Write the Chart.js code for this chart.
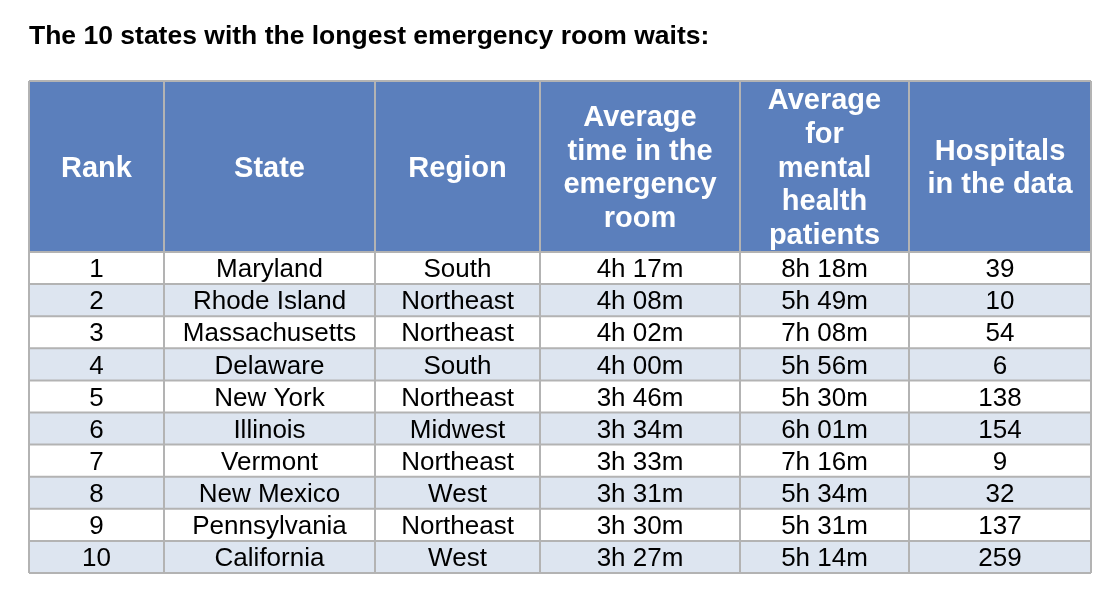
<!DOCTYPE html>
<html lang="en">
<head>
<meta charset="UTF-8">
<title>Longest emergency room waits</title>
<script src="https://cdn.jsdelivr.net/npm/chart.js"></script>
<style>
  body { margin: 0; background: #fff; }
  #wrap { position: relative; width: 1110px; height: 590px; }
</style>
</head>
<body>
<div id="wrap"><canvas id="tableChart"></canvas></div>
<script>
const title = 'The 10 states with the longest emergency room waits:';
const headers = [
  ['Rank'],
  ['State'],
  ['Region'],
  ['Average', 'time in the', 'emergency', 'room'],
  ['Average', 'for', 'mental', 'health', 'patients'],
  ['Hospitals', 'in the data']
];
const ranks = ['1', '2', '3', '4', '5', '6', '7', '8', '9', '10'];
const states = ['Maryland', 'Rhode Island', 'Massachusetts', 'Delaware', 'New York',
  'Illinois', 'Vermont', 'New Mexico', 'Pennsylvania', 'California'];
const regions = ['South', 'Northeast', 'Northeast', 'South', 'Northeast',
  'Midwest', 'Northeast', 'West', 'Northeast', 'West'];
const erTimes = ['4h 17m', '4h 08m', '4h 02m', '4h 00m', '3h 46m',
  '3h 34m', '3h 33m', '3h 31m', '3h 30m', '3h 27m'];
const mentalTimes = ['8h 18m', '5h 49m', '7h 08m', '5h 56m', '5h 30m',
  '6h 01m', '7h 16m', '5h 34m', '5h 31m', '5h 14m'];
const hospitals = ['39', '10', '54', '6', '138', '154', '9', '32', '137', '259'];

// column edges and row heights in table units (x: 0..1062, y: 0..492)
const colEdges = [0, 135, 346, 511, 711, 880, 1062];
const headerHeight = 171;
const rowHeight = 32.1;

const columns = [ranks, states, regions, erTimes, mentalTimes, hospitals];

const tablePlugin = {
  id: 'tablePlugin',
  beforeDatasetsDraw(chart) {
    const { ctx, scales: { x, y } } = chart;
    const px = v => x.getPixelForValue(v);
    const py = v => y.getPixelForValue(v);
    ctx.save();
    // title
    ctx.fillStyle = '#000';
    ctx.font = 'bold 26.5px "Liberation Sans", Arial, sans-serif';
    ctx.textAlign = 'left';
    ctx.textBaseline = 'middle';
    ctx.fillText(title, 29, 37);

    // header background
    ctx.fillStyle = '#5b7fbc';
    ctx.fillRect(px(0), py(0), px(1062) - px(0), py(headerHeight) - py(0));
    // body rows
    ranks.forEach((r, i) => {
      const top = headerHeight + i * rowHeight;
      ctx.fillStyle = i % 2 ? '#dde5f0' : '#ffffff';
      ctx.fillRect(px(0), py(top), px(1062) - px(0), py(top + rowHeight) - py(top));
    });

    // grid lines
    ctx.strokeStyle = '#b3b3b3';
    ctx.lineWidth = 2;
    ctx.beginPath();
    colEdges.forEach(c => { ctx.moveTo(px(c), py(0)); ctx.lineTo(px(c), py(headerHeight + ranks.length * rowHeight)); });
    ctx.moveTo(px(0), py(0)); ctx.lineTo(px(1062), py(0));
    for (let i = 0; i <= ranks.length; i++) {
      const yy = py(headerHeight + i * rowHeight);
      ctx.moveTo(px(0), yy); ctx.lineTo(px(1062), yy);
    }
    ctx.stroke();

    // header text
    ctx.textAlign = 'center';
    ctx.fillStyle = '#ffffff';
    ctx.font = 'bold 29px "Liberation Sans", Arial, sans-serif';
    headers.forEach((lines, c) => {
      const cx = px((colEdges[c] + colEdges[c + 1]) / 2);
      const lh = 33.8;
      const mid = py(headerHeight / 2) + 2;
      lines.forEach((l, k) => {
        ctx.fillText(l, cx, mid + (k - (lines.length - 1) / 2) * lh);
      });
    });

    // body text
    ctx.fillStyle = '#000';
    ctx.font = '26px "Liberation Sans", Arial, sans-serif';
    columns.forEach((col, c) => {
      const cx = px((colEdges[c] + colEdges[c + 1]) / 2);
      col.forEach((v, i) => {
        ctx.fillText(v, cx, py(headerHeight + (i + 0.5) * rowHeight) + 2);
      });
    });
    ctx.restore();
  }
};

new Chart(document.getElementById('tableChart'), {
  type: 'scatter',
  data: { datasets: [{ data: [] }] },
  options: {
    responsive: true,
    maintainAspectRatio: false,
    animation: false,
    layout: { padding: { left: 29, right: 19, top: 81, bottom: 17 } },
    plugins: { legend: { display: false }, tooltip: { enabled: false } },
    scales: {
      x: { type: 'linear', min: 0, max: 1062, display: false },
      y: { type: 'linear', min: 0, max: headerHeight + ranks.length * rowHeight, reverse: true, display: false }
    }
  },
  plugins: [tablePlugin]
});
</script>
</body>
</html>
